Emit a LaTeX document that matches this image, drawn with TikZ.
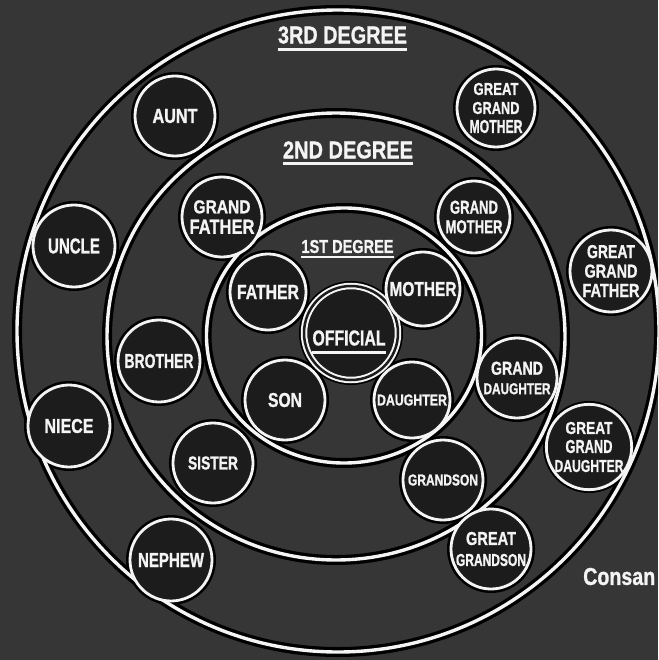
\documentclass[tikz,border=0pt]{standalone}
\usepackage{fontspec}
\usepackage{graphicx}
\newfontfamily\labfont{Liberation Sans}[BoldFeatures={FakeBold=1.2}]
\usetikzlibrary{shapes.geometric}
\definecolor{bg}{HTML}{363636}
\definecolor{disc}{HTML}{1C1C1C}
\definecolor{ink}{HTML}{F4F4F4}
\newcommand\lbx[3]{\resizebox{#1pt}{#2pt}{\labfont\bfseries #3}}
\begin{document}
\begin{tikzpicture}[x=1pt,y=-1pt,
  ring/.style={ellipse, draw=ink, line width=3.4pt, inner sep=0pt},
  ringhalo/.style={draw=black, line width=10pt},
  halo/.style={draw=black, line width=8pt},
  person/.style={circle, draw=ink, fill=disc, line width=2.8pt, inner sep=0pt,
    minimum size=#1, text=ink, align=center, font=\fontsize{12}{19.5}\selectfont},
  txt/.style={inner sep=0pt, text=ink},
  uline/.style={draw=ink, line width=2.4pt}]
\useasboundingbox (0,0) rectangle (658,660);
\clip (0,0) rectangle (658,660);
\fill[bg] (0,0) rectangle (658,660);
% halos
\draw[ringhalo] (338,331) ellipse[x radius=321, y radius=321];
\draw[ringhalo] (336,336.5) ellipse[x radius=229, y radius=223.5];
\draw[ringhalo] (344,335.5) ellipse[x radius=137.5, y radius=127.5];
\foreach \x/\y/\r in {268/292/38, 423/289/37, 285/400/40, 412/400/38, 351/333/48,
  222/217/40, 474/217/36, 159/361/41, 213/463/40, 517/378/40, 443/480/40,
  175/116/40, 74/246/41, 69/426/41, 171/560/41, 496/108/39, 611/271/41,
  589/447/42, 491/549/40}
  {\draw[halo] (\x,\y) circle[radius=\r];}
% rings
\node[ring, minimum width=642pt, minimum height=642pt] (ring3) at (338,331) {};
\node[ring, minimum width=458pt, minimum height=447pt] (ring2) at (336,336.5) {};
\node[ring, minimum width=275pt, minimum height=255pt] (ring1) at (344,335.5) {};
% degree titles
\node[txt] (deg3) at (342.5,35) {\lbx{129}{17}{3RD DEGREE}};
\draw[uline] ([yshift=-5.5pt]deg3.south west) -- ([yshift=-5.5pt]deg3.south east);
\node[txt] (deg2) at (348,150) {\lbx{130}{17}{2ND DEGREE}};
\draw[uline] ([yshift=-4.5pt]deg2.south west) -- ([yshift=-4.5pt]deg2.south east);
\node[txt] (deg1) at (347.5,246.5) {\lbx{92}{13}{1ST DEGREE}};
\draw[uline] ([yshift=-4pt]deg1.south west) -- ([yshift=-4pt]deg1.south east);
% official
\node[person=94pt, line width=2pt, double=disc, double distance=2.5pt] (official) at (351,333) {};
\node[txt] (offtxt) at (349,338) {\lbx{73}{15}{OFFICIAL}};
\draw[uline] ([yshift=-6.5pt]offtxt.south west) -- ([yshift=-6.5pt]offtxt.south east);
% first degree
\node[person=76pt] (father) at (268,292) {\lbx{62}{14}{FATHER}};
\node[person=74pt] (mother) at (423,289) {\lbx{67}{14}{MOTHER}};
\node[person=80pt] (son) at (285,400) {\lbx{34}{14}{SON}};
\node[person=76pt] (daughter) at (412,400) {\lbx{70}{11}{DAUGHTER}};
% second degree
\node[person=80pt] (gfather) at (222,217) {\lbx{57}{13}{GRAND}\\[1pt]\lbx{65}{14}{FATHER}};
\node[person=72pt] (gmother) at (474,217) {\lbx{48}{13}{GRAND}\\\lbx{57}{13}{MOTHER}};
\node[person=82pt] (brother) at (159,361) {\lbx{69}{14}{BROTHER}};
\node[person=80pt] (sister) at (213,463) {\lbx{50}{13}{SISTER}};
\node[person=80pt] (gdaughter) at (517,378) {\lbx{52}{13}{GRAND}\\\lbx{67}{11}{DAUGHTER}};
\node[person=80pt] (grandson) at (443,480) {\lbx{70}{11}{GRANDSON}};
% third degree
\node[person=80pt] (aunt) at (175,116) {\lbx{45}{14}{AUNT}};
\node[person=82pt] (uncle) at (74,246) {\lbx{52}{15}{UNCLE}};
\node[person=82pt] (niece) at (69,426) {\lbx{49}{14}{NIECE}};
\node[person=82pt] (nephew) at (171,560) {\lbx{66}{14}{NEPHEW}};
\node[person=78pt, font=\fontsize{12}{19}\selectfont] (ggmother) at (496,108) {\lbx{45}{12}{GREAT}\\\lbx{47}{12}{GRAND}\\\lbx{53}{13}{MOTHER}};
\node[person=82pt] (ggfather) at (611,271) {\lbx{48}{13}{GREAT}\\\lbx{53}{13}{GRAND}\\\lbx{57}{13}{FATHER}};
\node[person=84pt, font=\fontsize{12}{19}\selectfont] (ggdaughter) at (589,447) {\lbx{47}{12}{GREAT}\\\lbx{47}{13}{GRAND}\\\lbx{69}{12}{DAUGHTER}};
\node[person=80pt] (ggson) at (491,549) {\lbx{50}{13}{GREAT}\\[1.5pt]\lbx{70}{12}{GRANDSON}};
% side caption
\node[txt, anchor=west] (consan) at (583,576.5) {\lbx{72}{17}{Consan}};
\end{tikzpicture}
\end{document}
